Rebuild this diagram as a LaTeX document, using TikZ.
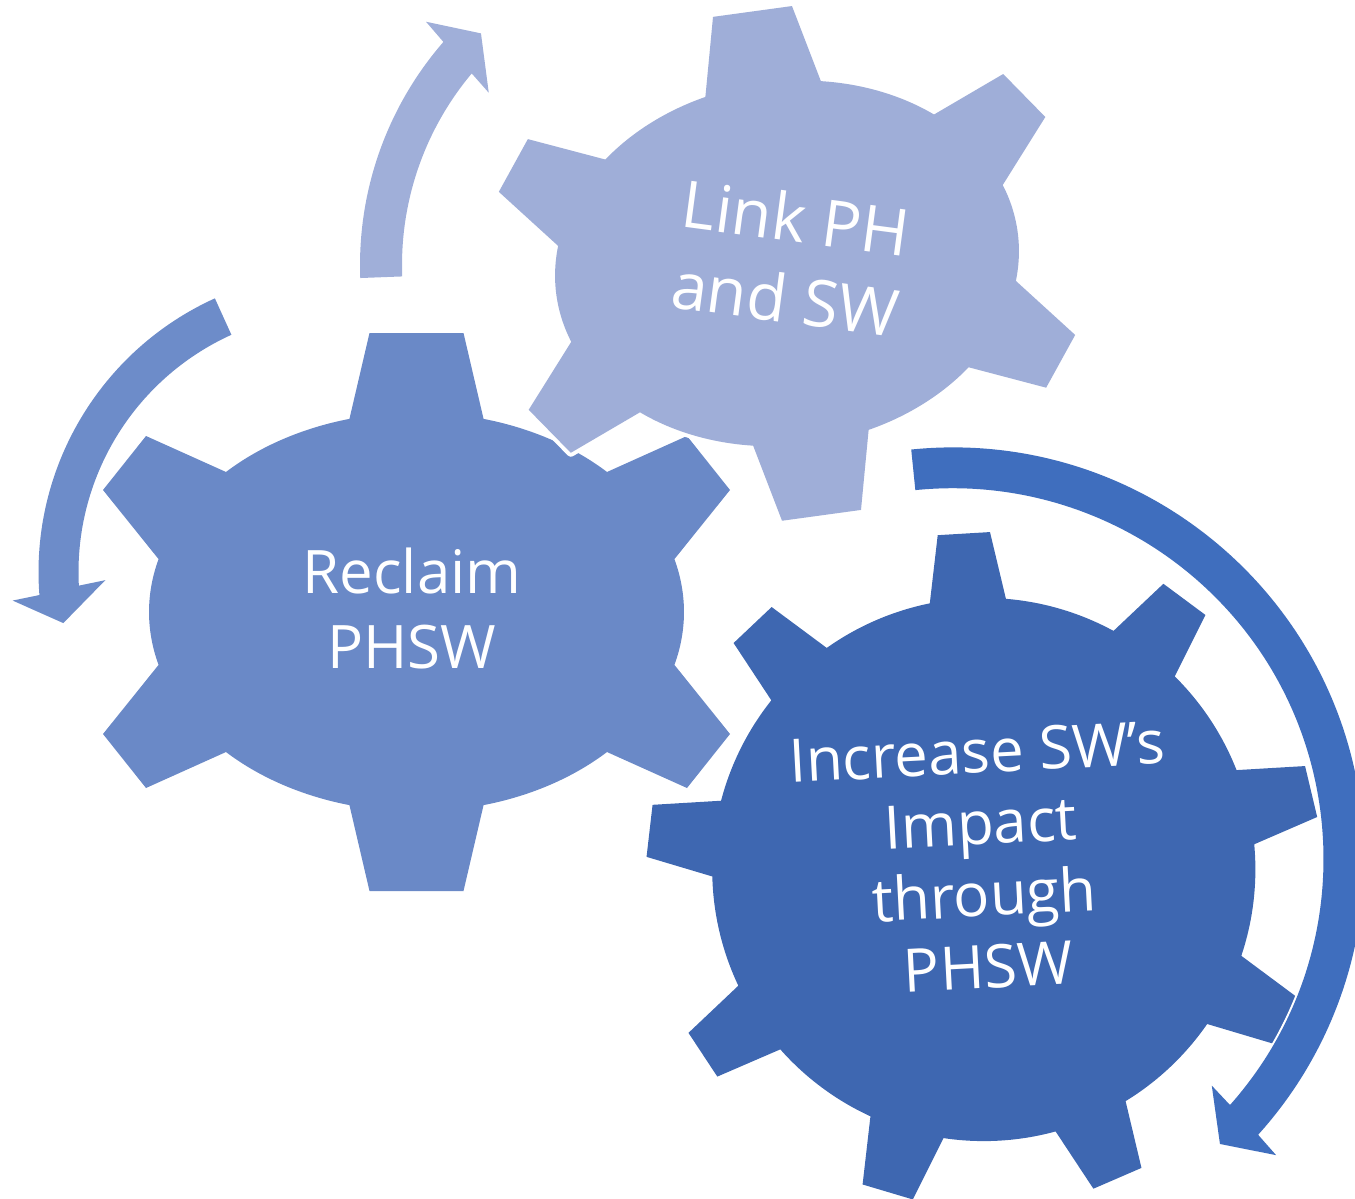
\documentclass[tikz,border=0pt]{standalone}
\usepackage{fontspec}
\setmainfont{Open Sans}
\definecolor{gearDark}{HTML}{3E67B1}
\definecolor{arrowDark}{HTML}{3F6EBE}
\definecolor{gearMid}{HTML}{6A89C7}
\definecolor{arrowMid}{HTML}{6D8CC9}
\definecolor{gearLight}{HTML}{9FAED8}
\definecolor{arrowLight}{HTML}{A0AFD9}
\begin{document}
\begin{tikzpicture}[x=1pt,y=1pt,
  gtext/.style={text=white, inner sep=0pt, anchor=base, align=center},
  halo/.style={draw=white, line width=#1, line join=round},
  bigfont/.style={font=\fontsize{60}{71.7}\selectfont},
  midfont/.style={font=\fontsize{60}{75}\selectfont},
  smallfont/.style={font=\fontsize{65}{81}\selectfont}]
\begin{scope}[yscale=-1]
\useasboundingbox (0,0) rectangle (1355,1199);

% ---------- large gear (9 teeth) ----------
\begin{scope}[shift={(983.8,869.5)}]
\fill[gearDark] ({-93.4-8.07}:271.6)
  \foreach \a in {-93.4,-53.4,-13.4,26.6,66.6,106.6,146.6,186.6,226.6}{
    -- ({\a-4.45}:337.5) -- ({\a+4.45}:337.5) -- ({\a+8.07}:271.6)
    arc[start angle={\a+8.07}, end angle={\a+31.93}, radius=271.6]
  } -- cycle;
\end{scope}

% ---------- large arrow ----------
\begin{scope}[shift={(952.8,858.9)}]
\def\bigarrow{(-95.8:411.5) arc[start angle=-95.8, end angle=42.1, radius=411.5]
  -- (42.5:438.5) -- (46.86:390.7) -- (41.2:344.2) -- (41.6:370.7)
  arc[start angle=41.6, end angle=-95.8, radius=370.7] -- cycle}
\path[halo=4] \bigarrow;
\fill[arrowDark] \bigarrow;
\end{scope}

% ---------- medium gear (6 teeth) ----------
\begin{scope}[shift={(416.5,612)}]
\fill[gearMid] (-75.48:267.5 and 199.5)
  arc[start angle=-75.48, end angle=-44.58, x radius=267.5, y radius=199.5]
  -- (270.5,-176) -- (313.5,-122) -- (-15.37:267.5 and 199.5)
  arc[start angle=-15.37, end angle=15.37, x radius=267.5, y radius=199.5]
  -- (313.5,122) -- (270.5,176) -- (44.58:267.5 and 199.5)
  arc[start angle=44.58, end angle=75.48, x radius=267.5, y radius=199.5]
  -- (47,279) -- (-47,279) -- (104.52:267.5 and 199.5)
  arc[start angle=104.52, end angle=135.42, x radius=267.5, y radius=199.5]
  -- (-270.5,176) -- (-313.5,122) -- (164.63:267.5 and 199.5)
  arc[start angle=164.63, end angle=195.37, x radius=267.5, y radius=199.5]
  -- (-313.5,-122) -- (-270.5,-176) -- (224.58:267.5 and 199.5)
  arc[start angle=224.58, end angle=255.48, x radius=267.5, y radius=199.5]
  -- (-47,-279) -- (47,-279) -- cycle;
\end{scope}

% ---------- small gear (6 teeth, tilted) ----------
\begin{scope}[shift={(787,263.4)}, rotate=-7.8]
\def\smallgear{(-75.5:232.8 and 181.8)
  arc[start angle=-75.5, end angle=-44.56, x radius=232.8, y radius=181.8]
  -- (239.9,-158.3) -- (275.8,-110) -- (-15.44:232.8 and 181.8)
  arc[start angle=-15.44, end angle=15.44, x radius=232.8, y radius=181.8]
  -- (275.8,110) -- (239.9,158.3) -- (44.56:232.8 and 181.8)
  arc[start angle=44.56, end angle=75.5, x radius=232.8, y radius=181.8]
  -- (39.85,254.3) -- (-39.85,254.3) -- (104.5:232.8 and 181.8)
  arc[start angle=104.5, end angle=135.44, x radius=232.8, y radius=181.8]
  -- (-239.9,158.3) -- (-275.8,110) -- (164.56:232.8 and 181.8)
  arc[start angle=164.56, end angle=195.44, x radius=232.8, y radius=181.8]
  -- (-275.8,-110) -- (-239.9,-158.3) -- (224.56:232.8 and 181.8)
  arc[start angle=224.56, end angle=255.5, x radius=232.8, y radius=181.8]
  -- (-39.85,-254.3) -- (39.85,-254.3) -- cycle}
\path[halo=8] \smallgear;
\fill[gearLight] \smallgear;
\end{scope}

% ---------- medium arrow ----------
\begin{scope}[shift={(339,572)}]
\fill[arrowMid] (245.6:300.5) arc[start angle=245.6, end angle=175.6, radius=300.5]
  -- (175.0:327.6) -- (169.5:280.4) -- (178.0:233.8) -- (177.0:260.5)
  arc[start angle=177.0, end angle=245.6, radius=260.5] -- cycle;
\end{scope}

% ---------- small arrow ----------
\begin{scope}[shift={(700,265)}]
\fill[arrowLight] (177.8:340) arc[start angle=177.8, end angle=221.0, radius=340]
  -- (221.6:366.4) -- (226.6:318.8) -- (219.2:272.6) -- (220.0:298)
  arc[start angle=220.0, end angle=177.8, radius=298] -- cycle;
\end{scope}

% ---------- texts (anchor = baseline of the last line) ----------
\node[gtext, midfont] (reclaim) at (412,668) {Reclaim\\PHSW};
\node[gtext, smallfont, rotate=-7.6] (link) at (782.3,322.3) {Link PH\\and SW};
\node[gtext, bigfont, rotate=3] (increase) at (989.3,987.8) {Increase SW’s\\Impact\\through\\PHSW};
\end{scope}
\end{tikzpicture}
\end{document}
